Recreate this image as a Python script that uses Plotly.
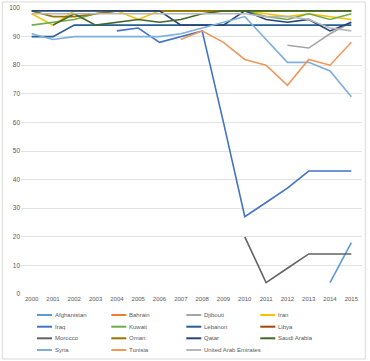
import plotly.graph_objects as go

years = list(range(2000, 2016))
countries = ["Afghanistan", "Bahrain", "Djibouti", "Iran", "Iraq", "Kuwait", "Lebanon", "Libya",
             "Morocco", "Oman", "Qatar", "Saudi Arabia", "Syria", "Tunisia", "United Arab Emirates"]
colors = ["#5B9BD5", "#ED7D31", "#A5A5A5", "#FFC000", "#4472C4", "#70AD47", "#255E91", "#9E480E",
          "#636363", "#997300", "#264478", "#43682B", "#7CAFDD", "#F1975A", "#B7B7B7"]
N = None
afghanistan = [N]*14 + [4, 18]
bahrain = [N]*16
djibouti = [N]*12 + [87, 86, 91, 95]
iran = [98, 94, 99, 99, 99, 96, 99, 99, 99, 99, 99, 98, 97, 98, 97, 96]
iraq = [N]*4 + [92, 93, 88, 90, 92, 60, 27, 32, 37, 43, 43, 43]
kuwait = [94, 95, 96, 98, 99, 99, 99, 99, 99, 99, 99, 97, 96, 98, 96, 98]
lebanon = [90, 90, 94, 94, 94, 94, 94, 94, 94, 94, 94, 94, 94, 94, 94, 94]
libya = [N]*16
morocco = [N]*10 + [20, 4, 9, 14, 14, 14]
oman = [99, 97, 97, 98, 99, 99, 99, 99, 99, 99, 99, 99, 99, 99, 99, 99]
qatar = [99, 99, 99, 99, 99, 99, 99, 94, 94, 94, 99, 96, 95, 96, 92, 95]
saudi = [N, 94, 98, 94, 95, 96, 95, 96, 98, 99, 99, 99, 99, 99, 99, 99]
syria = [91, 89, 90, 90, 90, 90, 90, 91, 93, 95, 97, 89, 81, 81, 78, 69]
tunisia = [N]*7 + [89, 92, 88, 82, 80, 73, 82, 80, 88]
uae = [98, 98, 98, 98, 98, 98, 98, 98, 98, 98, 98, 97, 97, 96, 93, 92]
series = [afghanistan, bahrain, djibouti, iran, iraq, kuwait, lebanon, libya,
          morocco, oman, qatar, saudi, syria, tunisia, uae]
y_ticks = list(range(0, 101, 10))

W, H = 370, 361
L, R, T, B = 20.7, 361.7, 8, 294
pw, ph = R - L, B - T

def px(x):
    return (x - L) / pw

def py(y):
    return (B - y) / ph

FONT = "Liberation Sans, Arial, sans-serif"
fig = go.Figure()
for name, col, vals in zip(countries, colors, series):
    fig.add_trace(go.Scatter(x=years, y=vals, mode="lines", name=name,
                             line=dict(color=col, width=1.6), connectgaps=False,
                             showlegend=False))

shapes = [dict(type="rect", xref="paper", yref="paper", x0=px(2), x1=px(365), y0=py(2), y1=py(359),
               line=dict(color="#D9D9D9", width=1), fillcolor="rgba(0,0,0,0)", layer="below")]
annotations = []
col_x = [52.7, 127, 202, 276]
row_y = [315, 326.7, 338.3, 350]
for i, (name, col) in enumerate(zip(countries, colors)):
    cx = col_x[i % 4]
    cy = row_y[i // 4]
    shapes.append(dict(type="line", xref="paper", yref="paper", x0=px(cx - 16), x1=px(cx - 1),
                       y0=py(cy), y1=py(cy), line=dict(color=col, width=2)))
    annotations.append(dict(xref="paper", yref="paper", x=px(cx), y=py(cy), text=name,
                            showarrow=False, xanchor="left", yanchor="middle",
                            font=dict(size=6, color="#595959", family=FONT)))

fig.update_layout(
    width=W, height=H,
    margin=dict(l=L, r=W - R, t=T, b=H - B, autoexpand=False),
    paper_bgcolor="white", plot_bgcolor="white",
    font=dict(family=FONT, color="#595959"),
    hovermode=False,
    xaxis=dict(range=[1999.5, 2015.5], tickmode="array", tickvals=years,
               ticktext=[str(y) for y in years], showgrid=False, zeroline=False,
               showline=False, tickfont=dict(size=6, color="#595959"), ticks=""),
    yaxis=dict(range=[0, 100], tickmode="array", tickvals=y_ticks,
               ticktext=[str(v) for v in y_ticks], showgrid=True, gridcolor="#E3E3E3",
               gridwidth=1, zeroline=False, showline=False,
               tickfont=dict(size=6.5, color="#595959"), ticks=""),
    shapes=shapes, annotations=annotations, showlegend=False,
)
fig.write_html("out.html", config={"displayModeBar": False, "staticPlot": True},
               post_script="document.body.style.margin='0';document.body.style.overflow='hidden';")
